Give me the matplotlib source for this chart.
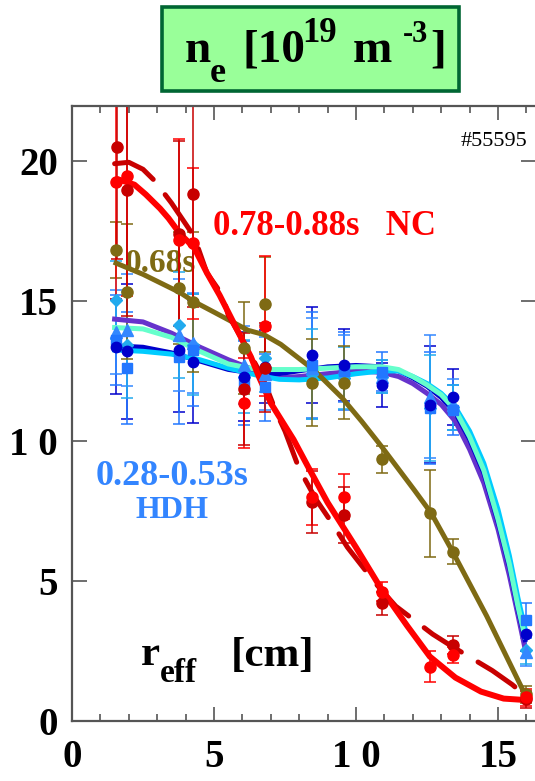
import numpy as np
import matplotlib
matplotlib.use("Agg")
import matplotlib.pyplot as plt
from matplotlib.patches import Rectangle

plt.rcParams['font.family'] = ['Liberation Serif', 'DejaVu Serif']
plt.rcParams['lines.scale_dashes'] = False

# ---------- DATA ----------
# radial positions of the channels [cm]
r_ch = [1.55, 1.93, 3.78, 4.25, 6.07, 6.78, 8.46, 9.58, 10.9, 12.62, 13.42, 15.97]

# NC phase, 0.78-0.88 s (two time slices)
nc_a = [19.26, 19.46, 17.18, 17.06, 11.35, 14.1, 8.01, 8.01, 4.62, 1.94, 2.36, 0.85]
nc_a_err = [4.2, 4.3, 3.6, 2.7, 1.6, 2.5, 1.0, 0.8, 0.35, 0.56, 0.3, 0.3]
r_nc_b = [1.58, 1.93, 3.78, 4.25, 6.07, 6.78, 8.46, 9.58, 10.9, 13.42, 15.97]
nc_b = [20.5, 18.96, 17.4, 18.8, 11.85, 12.62, 7.83, 7.36, 4.2, 2.71, 0.77]
nc_b_err = [4.0, 4.5, 3.3, 4.0, 2.0, 1.6, 1.1, 1.0, 0.4, 0.33, 0.3]

# 0.68 s
t68 = [16.82, 15.33, 15.45, 14.95, 13.33, 14.88, 12.08, 12.08, 9.34, 7.42, 6.05, 0.95]
t68_err = [1.0, 2.4, 2.0, 2.5, 1.64, 1.7, 1.55, 1.3, 0.47, 1.55, 0.45, 0.3]

# HDH phase, 0.28-0.53 s (four time slices)
hdh_circ = [13.37, 13.2, 13.25, 12.83, 12.3, 12.65, 13.07, 12.71, 12.0, 11.3, 11.58, 3.11]
hdh_sq = [13.6, 12.6, 13.0, 13.25, 12.06, 11.92, 12.71, 12.5, 12.47, 11.17, 11.1, 3.61]
hdh_tri = [13.9, 13.96, 13.79, 13.5, 12.71, 12.4, 12.6, 12.6, 12.3, 11.58, 11.3, 2.48]
hdh_dia = [15.04, 13.43, 14.14, 13.43, 12.3, 12.95, 12.39, 12.24, 12.3, 11.17, 11.2, 2.55]
hdh_circ_err = [1.7, 2.4, 2.2, 2.2, 1.6, 1.3, 1.7, 1.3, 0.8, 2.1, 1.0, 0.6]
hdh_sq_err = [1.6, 2.0, 2.4, 2.0, 1.5, 1.2, 1.9, 1.4, 0.7, 2.0, 0.9, 0.6]
hdh_tri_err = [1.5, 2.0, 2.0, 1.8, 1.4, 1.3, 1.8, 1.2, 0.6, 2.2, 0.9, 0.5]
hdh_dia_err = [1.4, 1.9, 1.9, 1.8, 1.3, 1.2, 1.6, 1.1, 0.6, 1.9, 0.8, 0.5]

# fitted profiles
fit_r_nc = [1.6, 2.2, 2.6, 3.1, 3.4, 3.8, 4.3, 4.75, 5.2, 5.6, 6.0, 6.3, 6.6, 7.0, 7.4, 7.8, 8.3, 9.0,
            10.0, 10.9, 11.8, 12.6, 13.5, 14.4, 15.2, 15.95]
fit_nc = [19.35, 19.15, 18.8, 18.3, 17.95, 17.4, 16.9, 16.0, 15.2, 14.4, 13.6, 13.0, 12.25, 11.35, 10.7,
          10.05, 9.1, 7.8, 6.2, 4.7, 3.4, 2.3, 1.55, 1.05, 0.8, 0.75]
fit_r_nc2 = [1.5, 2.0, 2.5, 2.9, 3.5, 4.3, 4.75, 5.3, 5.5, 6.0, 6.7, 7.2, 7.5, 8.0, 8.6, 9.2, 9.7, 10.7,
             11.4, 12.7, 13.4, 14.8, 15.5, 16.0]
fit_nc2 = [19.9, 19.95, 19.7, 19.3, 18.5, 17.3, 16.0, 15.2, 14.5, 13.6, 12.3, 11.0, 10.35, 9.0, 7.9, 7.0,
           6.2, 4.9, 4.1, 3.1, 2.65, 1.8, 1.3, 0.87]
fit_r_68 = [1.55, 2.5, 3.8, 4.25, 5.0, 6.2, 6.75, 7.35, 8.5, 9.5, 10.2, 10.9, 12.05, 12.65, 13.4, 14.6,
            15.95]
fit_68 = [16.35, 15.95, 15.3, 15.0, 14.6, 13.95, 13.8, 13.45, 12.55, 11.55, 10.7, 9.8, 8.25, 7.42, 6.05,
          3.75, 0.95]

fit_r_hdh = [1.5, 2.5, 3.5, 4.5, 5.5, 6.5, 7.3, 8.0, 9.0, 10.0, 10.9, 11.5, 12.0, 12.5, 13.0, 13.5, 14.0,
             14.5, 15.0, 15.4, 15.7, 15.95]
fit_purple = [14.35, 14.25, 13.85, 13.35, 12.9, 12.5, 12.25, 12.3, 12.4, 12.5, 12.45, 12.3, 12.05, 11.7,
              11.3, 10.7, 9.7, 8.5, 6.85, 5.2, 3.8, 2.6]
fit_aqua = [14.05, 14.0, 13.7, 13.2, 12.75, 12.55, 12.55, 12.55, 12.6, 12.65, 12.65, 12.55, 12.3, 12.0,
            11.65, 11.1, 10.15, 8.95, 7.2, 5.6, 4.1, 3.0]
fit_cyan = [13.25, 13.2, 13.1, 12.9, 12.6, 12.35, 12.2, 12.18, 12.25, 12.4, 12.5, 12.5, 12.3, 12.05,
            11.7, 11.2, 10.35, 9.2, 7.55, 5.9, 4.4, 3.3]
fit_navy = [13.4, 13.35, 13.15, 12.85, 12.55, 12.4, 12.4, 12.5, 12.65, 12.7, 12.65, 12.5, 12.25, 11.95,
            11.55, 11.0, 10.05, 8.85, 7.1, 5.5, 4.0, 2.9]

# tick labels
x_ticks = [0, 5, 10, 15]
x_labels = ['0', '5', '1 0', '15']
y_ticks = [0, 5, 10, 15, 20]
y_labels = ['0', '5', '1 0', '15', '20']

# ---------- COLORS ----------
RED = '#FF0000'
DRED = '#C80000'
OLIVE = '#7E6A14'
NAVY = '#0000CC'
BLUE = '#2277FF'
LBLUE = '#3388FF'
SKY = '#22AAEE'
PURPLE = '#6633CC'
AQUA = '#66FFCC'
CYAN = '#00CCFF'

W, H = 535, 781


def fx(px):
    return px / W


def fy(py):
    return 1 - py / H


# ---------- FIGURE ----------
fig = plt.figure(figsize=(W / 100, H / 100), dpi=100)
ax = fig.add_axes([fx(72), fy(721), fx(535 - 72) + 0.002, (721 - 106) / H])
ax.set_xlim(0, 16.34)
ax.set_ylim(0, 21.96)

eb = dict(fmt='none', elinewidth=1.1, capsize=4, capthick=1.1, zorder=2)
ax.errorbar(r_ch, hdh_circ, yerr=hdh_circ_err, ecolor=NAVY, **eb)
ax.errorbar(r_ch, hdh_sq, yerr=hdh_sq_err, ecolor=BLUE, **eb)
ax.errorbar(r_ch, hdh_tri, yerr=hdh_tri_err, ecolor=LBLUE, **eb)
ax.errorbar(r_ch, hdh_dia, yerr=hdh_dia_err, ecolor=SKY, **eb)
ax.errorbar(r_ch, t68, yerr=t68_err, ecolor=OLIVE, **eb)
ax.errorbar(r_ch, nc_a, yerr=nc_a_err, ecolor=RED, **eb)
ax.errorbar(r_nc_b, nc_b, yerr=nc_b_err, ecolor=DRED, **eb)

# fitted profiles
ax.plot(fit_r_hdh, fit_purple, color=PURPLE, lw=3.6, zorder=3, solid_joinstyle='round')
ax.plot(fit_r_hdh, fit_navy, color=NAVY, lw=3.4, zorder=3, solid_joinstyle='round')
ax.plot(fit_r_hdh, fit_cyan, color=CYAN, lw=3.6, zorder=3, solid_joinstyle='round')
ax.plot(fit_r_hdh, fit_aqua, color=AQUA, lw=3.6, zorder=3, solid_joinstyle='round')
ax.plot(fit_r_68, fit_68, color=OLIVE, lw=3.6, zorder=4, solid_joinstyle='round')
ax.plot(fit_r_nc2, fit_nc2, color=DRED, lw=3.6, zorder=4, dashes=(32, 14),
        dash_capstyle='round', dash_joinstyle='round')
ax.plot(fit_r_nc, fit_nc, color=RED, lw=4.3, zorder=5, solid_capstyle='round',
        solid_joinstyle='round')

# data points
ax.plot(r_ch, hdh_dia, 'D', color=SKY, ms=6.5, zorder=6)
ax.plot(r_ch, hdh_tri, '^', color=LBLUE, ms=8, zorder=6)
ax.plot(r_ch, hdh_sq, 's', color=BLUE, ms=7.5, zorder=6)
ax.plot(r_ch, hdh_circ, 'o', color=NAVY, ms=7.5, zorder=6)
ax.plot(r_ch, t68, 'o', color=OLIVE, ms=8, zorder=7)
ax.plot(r_nc_b, nc_b, 'o', color=DRED, ms=8, zorder=7)
ax.plot(r_ch, nc_a, 'o', color=RED, ms=8, zorder=7)

# axes styling
for s in ax.spines.values():
    s.set_color('#555555')
    s.set_linewidth(1.6)
ax.set_xticks(x_ticks)
ax.set_xticklabels(x_labels)
ax.set_xticks(np.arange(0, 17, 1), minor=True)
ax.set_yticks(y_ticks)
ax.set_yticklabels(y_labels)
ax.tick_params(axis='x', which='major', direction='in', length=10, width=1.2, color='#555555',
               top=True, bottom=True, pad=13, labelsize=28)
ax.tick_params(axis='x', which='minor', direction='in', length=5, width=1.2, color='#555555',
               top=True, bottom=True)
ax.tick_params(axis='y', which='major', direction='in', length=11, width=1.2, color='#555555',
               left=True, right=True, pad=10, labelsize=28)
for lab in ax.get_xticklabels() + ax.get_yticklabels():
    lab.set_fontweight('bold')

# ---------- ANNOTATIONS ----------
tf = fig.transFigure
ax.text(fx(213), fy(235), '0.78-0.88s   NC', transform=tf, color=RED, fontsize=25,
        fontweight='bold', va='baseline', zorder=1)
ax.text(fx(125), fy(272), '0.68s', transform=tf, color=OLIVE, fontsize=24,
        fontweight='bold', va='baseline', zorder=1)
ax.text(fx(172), fy(485), '0.28-0.53s', transform=tf, color='#3385FF', fontsize=26,
        fontweight='bold', va='baseline', ha='center', zorder=1)
ax.text(fx(172), fy(518), 'HDH', transform=tf, color='#3385FF', fontsize=23,
        fontweight='bold', va='baseline', ha='center', zorder=1)
ax.text(fx(141), fy(665), 'r', transform=tf, fontsize=31, fontweight='bold', va='baseline')
ax.text(fx(160), fy(682), 'eff', transform=tf, fontsize=24, fontweight='bold', va='baseline')
ax.text(fx(231), fy(666), '[cm]', transform=tf, fontsize=31, fontweight='bold', va='baseline')
fig.text(fx(527), fy(146), '#55595', fontsize=16, ha='right', va='baseline')

# title box
fig.patches.append(Rectangle((fx(162), fy(91)), fx(297), 84 / H, transform=tf,
                             facecolor='#99FF99', edgecolor='#006633', lw=2.6))
title_bits = [
    (185, 62, 'n', 34), (210, 82, 'e', 26), (243, 62, '[10', 34), (302, 42, '19', 25),
    (353, 62, 'm', 34), (403, 42, '-3', 22), (430, 62, ']', 34),
]
for px, py, s, size in title_bits:
    fig.text(fx(px), fy(py), s, fontsize=size, fontweight='bold', va='baseline')

fig.savefig('out.png', dpi=100)
